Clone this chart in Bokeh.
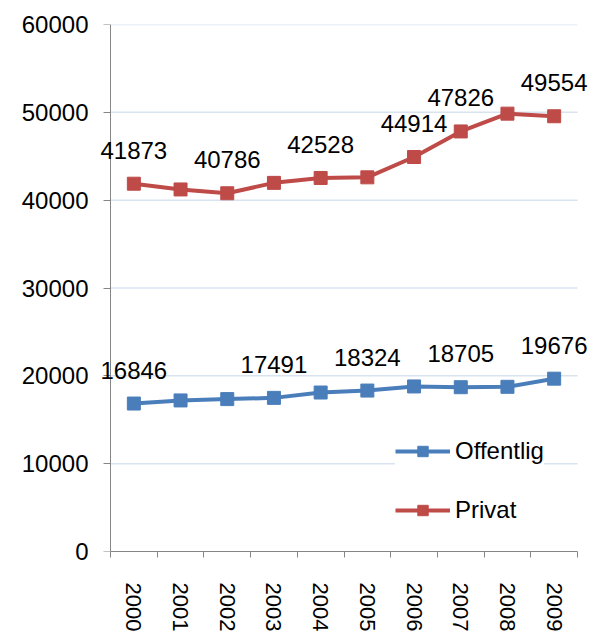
from bokeh.plotting import figure
from bokeh.models import (Range1d, FixedTicker, ColumnDataSource, Legend, LegendItem, LabelSet,
                          LinearAxis)
from bokeh.core.properties import value
from bokeh.embed import file_html
from bokeh.resources import INLINE
import math

years = ["2000", "2001", "2002", "2003", "2004", "2005", "2006", "2007", "2008", "2009"]
offentlig = [16846, 17200, 17350, 17491, 18100, 18324, 18790, 18705, 18750, 19676]
privat = [41873, 41220, 40786, 41970, 42528, 42600, 44914, 47826, 49850, 49554]
offentlig_labels = ["16846", "", "", "17491", "", "18324", "", "18705", "", "19676"]
privat_labels = ["41873", "", "40786", "", "42528", "", "44914", "47826", "", "49554"]
y_ticks = [0, 10000, 20000, 30000, 40000, 50000, 60000]

FONT = "Liberation Sans"
BLUE = "#4a7ebb"
RED = "#be4b48"
AXIS = "#868686"
GRID = "#d9e3f0"

n = len(years)
xs = [i + 0.5 for i in range(n)]

# frame spans from px 96 to 595; category area from px 110 to 577
FRAME_L, FRAME_R, AX_L, AX_R = 96, 595, 110, 577
ppu = (AX_R - AX_L) / n
x_start = -(AX_L - FRAME_L) / ppu
x_end = n + (FRAME_R - AX_R) / ppu

p = figure(width=595, height=634, output_backend="svg", toolbar_location=None,
           x_range=Range1d(x_start, x_end), y_range=Range1d(0, 60000),
           min_border_left=FRAME_L, min_border_right=0, min_border_top=24, min_border_bottom=82)
p.outline_line_color = None
p.background_fill_color = "white"
p.border_fill_color = "white"

# y axis line + ticks, pinned at x = 0 (labels drawn by a second axis)
p.yaxis.fixed_location = 0
p.yaxis.bounds = (0, 60000)
p.yaxis.ticker = FixedTicker(ticks=y_ticks)
p.yaxis.major_label_overrides = {t: "" for t in y_ticks}
p.yaxis.axis_line_color = AXIS
p.yaxis.major_tick_line_color = AXIS
p.yaxis.major_tick_out = 7
p.yaxis.major_tick_in = 0
p.yaxis.minor_tick_line_color = None
p.yaxis.major_label_standoff = 0

# y tick labels
ylab = LinearAxis(ticker=FixedTicker(ticks=y_ticks), axis_line_color=None,
                  major_tick_line_color=None, minor_tick_line_color=None,
                  major_tick_out=0, major_tick_in=0, major_label_standoff=8,
                  major_label_text_font=FONT, major_label_text_font_size="24px",
                  major_label_text_color="black")
p.add_layout(ylab, "left")

# x axis
p.xaxis.bounds = (0, n)
p.xaxis.ticker = FixedTicker(ticks=xs, minor_ticks=list(range(n + 1)))
p.xaxis.major_label_overrides = {x: y for x, y in zip(xs, years)}
p.xaxis.axis_line_color = AXIS
p.xaxis.major_tick_line_color = None
p.xaxis.major_tick_out = 0
p.xaxis.major_tick_in = 0
p.xaxis.minor_tick_line_color = AXIS
p.xaxis.minor_tick_out = 6
p.xaxis.minor_tick_in = 0
p.xaxis.major_label_orientation = -math.pi / 2
p.xaxis.major_label_text_font = FONT
p.xaxis.major_label_text_font_size = "22px"
p.xaxis.major_label_text_color = "black"
p.xaxis.major_label_standoff = 25

p.xgrid.grid_line_color = None
p.ygrid.grid_line_color = None
grid_y = y_ticks[1:]
p.segment(x0=[0] * len(grid_y), x1=[n] * len(grid_y), y0=grid_y, y1=grid_y,
          line_color=GRID, line_width=1.5, level="underlay")

src_o = ColumnDataSource(dict(x=xs, y=offentlig, t=offentlig_labels))
src_p = ColumnDataSource(dict(x=xs, y=privat, t=privat_labels))

lo = p.line("x", "y", source=src_o, line_color=BLUE, line_width=4)
so = p.scatter("x", "y", source=src_o, marker="square", size=13, fill_color=BLUE, line_color=BLUE)
lp = p.line("x", "y", source=src_p, line_color=RED, line_width=4)
sp = p.scatter("x", "y", source=src_p, marker="square", size=13, fill_color=RED, line_color=RED)

for src in (src_o, src_p):
    p.add_layout(LabelSet(x="x", y="y", text="t", source=src, text_font=value(FONT),
                          text_font_size="24px", text_color="black", text_align="center",
                          text_baseline="alphabetic", y_offset=25, level="overlay"))

legend = Legend(items=[LegendItem(label="Offentlig", renderers=[lo, so]),
                       LegendItem(label="Privat", renderers=[lp, sp])],
                location=(285 + AX_L - FRAME_L, 27), padding=12, spacing=31, glyph_width=55,
                glyph_height=26, label_standoff=5, label_text_font=FONT,
                label_text_font_size="24px", label_text_color="black", border_line_color=None,
                background_fill_color="white", background_fill_alpha=1.0, margin=0)
p.add_layout(legend)

open("out.html", "w").write(file_html(p, INLINE))
